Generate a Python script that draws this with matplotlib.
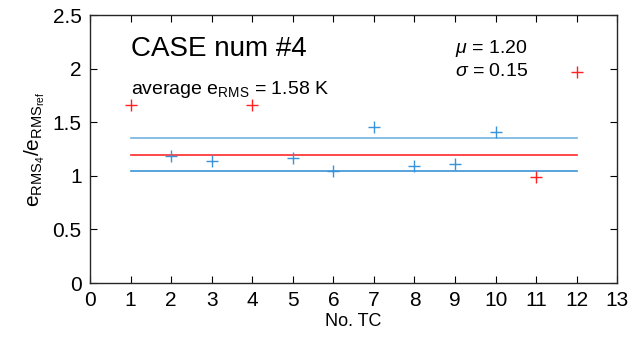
import matplotlib.pyplot as plt

plt.rcParams['font.family'] = ['Liberation Sans', 'DejaVu Sans']
plt.rcParams['mathtext.fontset'] = 'custom'
plt.rcParams['mathtext.rm'] = 'Liberation Sans'
plt.rcParams['mathtext.it'] = 'Liberation Sans:italic'

# TC index and ratio values
tc = [1, 2, 3, 4, 5, 6, 7, 8, 9, 10, 11, 12]
ratio = [1.66, 1.19, 1.14, 1.66, 1.17, 1.05, 1.46, 1.09, 1.11, 1.41, 0.99, 1.97]
outlier = [True, False, False, True, False, False, False, False, False, False, True, True]

mu = 1.20
sigma = 0.15
avg_erms = 1.58

blue = '#3a93d8'
light_blue = '#72b2e0'

fig, ax = plt.subplots(figsize=(6.43, 3.41), dpi=100)
fig.subplots_adjust(left=0.14, right=0.96, top=0.955, bottom=0.17)

# mean and +/- sigma lines
ax.plot([tc[0], tc[-1]], [mu + sigma, mu + sigma], color=light_blue, lw=1.2)
ax.plot([tc[0], tc[-1]], [mu, mu], color='#ff2a2a', lw=1.2)
ax.plot([tc[0], tc[-1]], [mu - sigma, mu - sigma], color=blue, lw=1.2)

for x, y, out in zip(tc, ratio, outlier):
    ax.plot(x, y, '+', color='#ff2020' if out else blue, ms=8, mew=1.0)

ax.set_xlim(0, 13)
ax.set_ylim(0, 2.5)
ax.set_xticks(range(0, 14))
ax.set_yticks([0, 0.5, 1, 1.5, 2, 2.5])
ax.set_yticklabels(['0', '0.5', '1', '1.5', '2', '2.5'])
ax.tick_params(direction='in', top=True, right=True, labelsize=15, length=5, pad=6)
for s in ax.spines.values():
    s.set_linewidth(1.0)
    s.set_color('#262626')

ax.set_xlabel('No. TC', fontsize=13, labelpad=2)
ax.set_ylabel(r'$\mathrm{e_{RMS_4}/e_{RMS_{ref}}}$', fontsize=15)

ax.text(1, 2.12, 'CASE num #4', fontsize=20)
ax.text(1, 1.77, r'average e$_{\mathrm{RMS}}$ = %.2f K' % avg_erms, fontsize=14)
ax.text(9.0, 2.15, r'$\mu$ = %.2f' % mu, fontsize=14)
ax.text(9.0, 1.93, r'$\sigma$ = %.2f' % sigma, fontsize=14)

fig.savefig('out.png', dpi=100)
